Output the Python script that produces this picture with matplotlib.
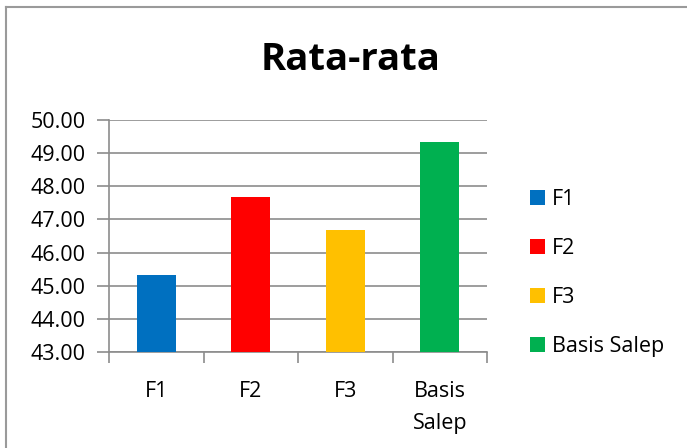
import numpy as np
import matplotlib
matplotlib.use('Agg')
import matplotlib.pyplot as plt
from matplotlib.lines import Line2D
from matplotlib.patches import Patch

plt.rcParams['font.family'] = ['Open Sans', 'DejaVu Sans']

categories = ['F1', 'F2', 'F3', 'Basis Salep']
tick_labels = ['F1', 'F2', 'F3', 'Basis\nSalep']
values = [45.33, 47.67, 46.67, 49.33]
colors = ['#0070C0', '#FF0000', '#FFC000', '#00B050']
y_ticks = [43, 44, 45, 46, 47, 48, 49, 50]

fig = plt.figure(figsize=(6.87, 4.48), dpi=100)
ax = fig.add_axes([0.1587, 0.2136, 0.5502, 0.5192])

x = np.arange(len(categories))
bars = ax.bar(x, values, width=0.41, color=colors, zorder=3, label=categories)

grid_c = '#8c8c8c'
ax.set_ylim(43, 50)
ax.set_xlim(-0.5, len(categories) - 0.5)
ax.set_yticks(y_ticks)
ax.set_yticklabels(['%.2f' % v for v in y_ticks])
ax.yaxis.grid(True, color=grid_c, linewidth=1.2, zorder=0)

# category boundary ticks below the axis, labels centred on the bars
ax.set_xticks(np.arange(len(categories) + 1) - 0.5)
ax.set_xticklabels([])
ax.set_xticks(x, minor=True)
ax.set_xticklabels(tick_labels, minor=True, linespacing=1.65)
ax.tick_params(axis='x', which='minor', length=0, pad=21, labelsize=15.5)
ax.tick_params(axis='x', which='major', length=8, color=grid_c, width=1.2)
ax.tick_params(axis='y', length=9, color=grid_c, width=1.2, pad=8, labelsize=15.5)
for lbl in ax.get_xticklabels(minor=True):
    lbl.set_verticalalignment('top')

for side in ['top', 'right']:
    ax.spines[side].set_visible(False)
for side in ['left', 'bottom']:
    ax.spines[side].set_color(grid_c)
    ax.spines[side].set_linewidth(1.2)

fig.text(0.511, 0.866, 'Rata-rata', ha='center', va='center',
         fontsize=27.5, fontweight='bold')

handles = [Patch(facecolor=c, edgecolor='none') for c in colors]
fig.legend(handles, categories, loc='center left', bbox_to_anchor=(0.743, 0.391),
           frameon=False, fontsize=15.5, handlelength=0.72, handleheight=0.72,
           handletextpad=0.3, labelspacing=1.3)

# chart area border
fig.add_artist(Line2D([5.5 / 687, 5.5 / 687], [0, 1 - 7 / 448], color='#9a9a9a',
                      linewidth=1.5, transform=fig.transFigure))
fig.add_artist(Line2D([5.5 / 687, 1], [1 - 7 / 448, 1 - 7 / 448], color='#9a9a9a',
                      linewidth=1.5, transform=fig.transFigure))

fig.savefig('out.png', dpi=100)
